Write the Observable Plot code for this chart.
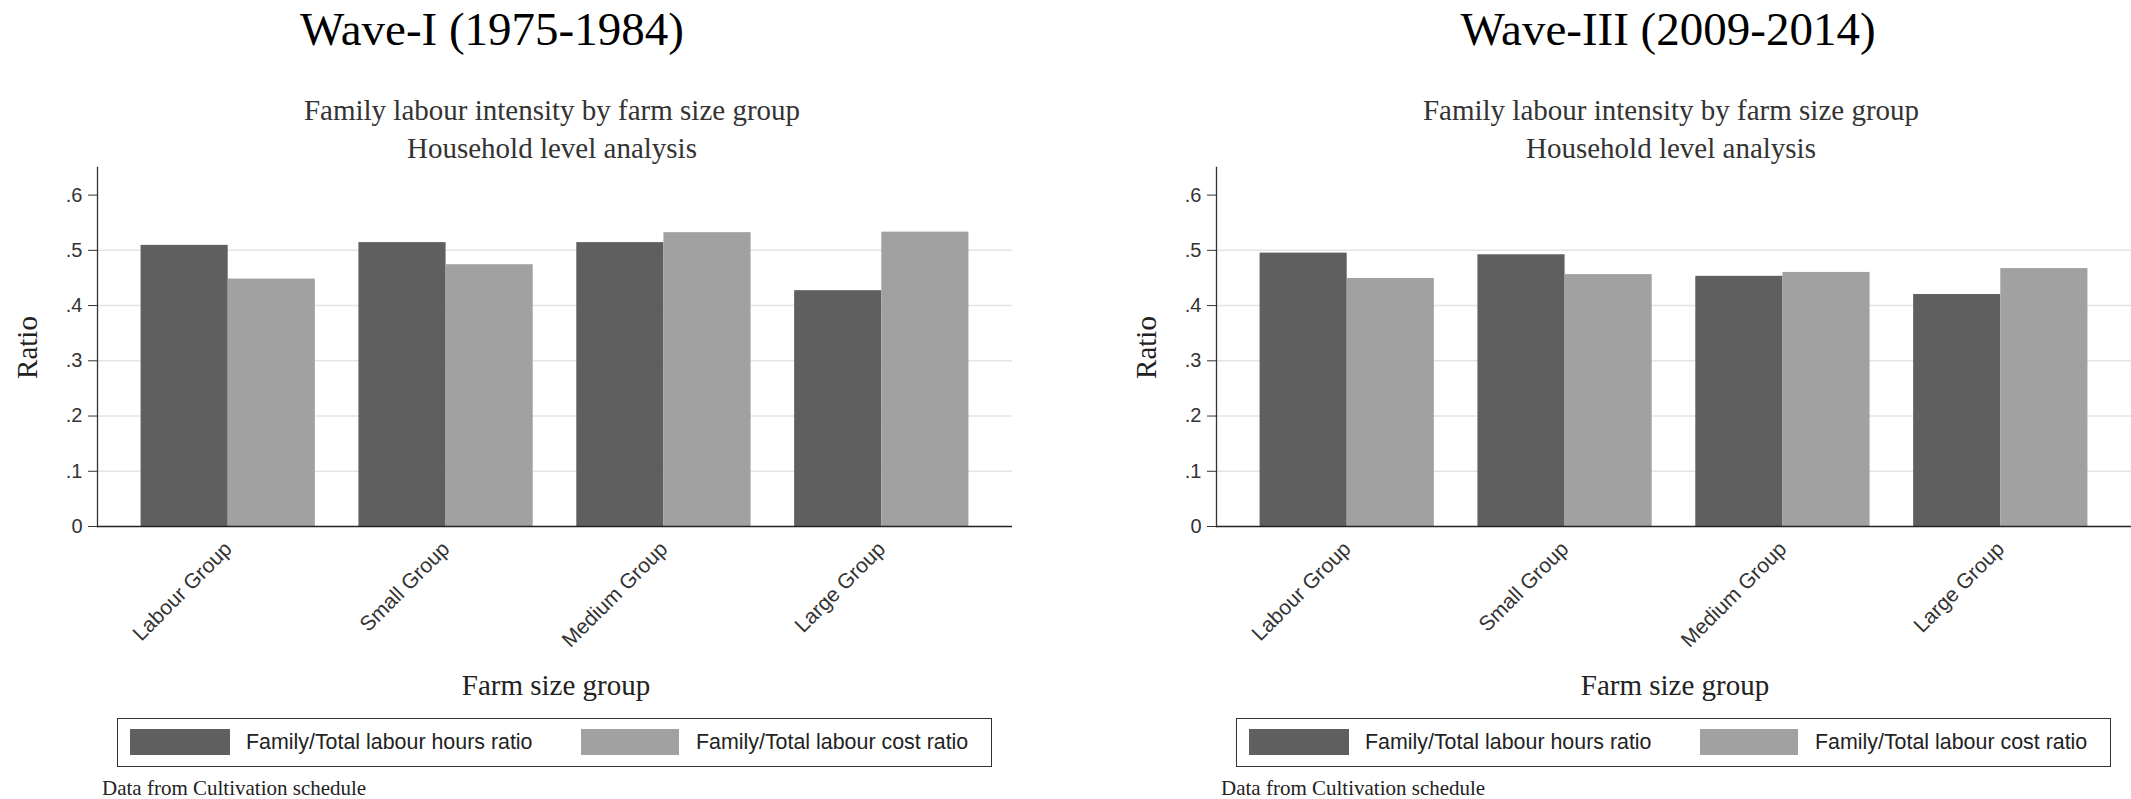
<!DOCTYPE html>
<html>
<head>
<meta charset="utf-8">
<script src="https://cdn.jsdelivr.net/npm/d3@7"></script>
<script src="https://cdn.jsdelivr.net/npm/@observablehq/plot@0.6"></script>
<style>
  html, body { margin: 0; padding: 0; background: #fff; }
  #page { position: relative; width: 2131px; height: 799px; overflow: hidden; background: #fff; }
  .t { position: absolute; white-space: nowrap; }
  .box { position: absolute; box-sizing: border-box; }
</style>
</head>
<body>
<div id="page"></div>
<script>
// ---------- data ----------
const groups = ["Labour Group", "Small Group", "Medium Group", "Large Group"];
const seriesNames = ["Family/Total labour hours ratio", "Family/Total labour cost ratio"];
const seriesColors = ["#5f5f5f", "#a1a1a1"];
const wave1Hours = [0.509, 0.514, 0.514, 0.427];
const wave1Cost  = [0.448, 0.474, 0.532, 0.533];
const wave3Hours = [0.495, 0.492, 0.453, 0.420];
const wave3Cost  = [0.449, 0.456, 0.460, 0.467];
const yTicks = [0, 0.1, 0.2, 0.3, 0.4, 0.5, 0.6];
const gridTicks = [0.1, 0.2, 0.3, 0.4, 0.5];
const panels = [
  {title: "Wave-I (1975-1984)", hours: wave1Hours, cost: wave1Cost},
  {title: "Wave-III (2009-2014)", hours: wave3Hours, cost: wave3Cost}
];
const subtitle1 = "Family labour intensity by farm size group";
const subtitle2 = "Household level analysis";
const yLabel = "Ratio";
const xLabel = "Farm size group";
const caption = "Data from Cultivation schedule";

// ---------- helpers ----------
const page = document.getElementById("page");
const SERIF = "'Liberation Serif', 'Times New Roman', serif";
const SANS = "'Liberation Sans', Arial, sans-serif";
function addText(txt, {x, baseline, size, family = SERIF, anchor = "middle", color = "#000", rotate = 0}) {
  const d = document.createElement("div");
  d.className = "t";
  d.textContent = txt;
  const k = family === SERIF ? 0.8375 : 0.8465;
  d.style.fontFamily = family;
  d.style.fontSize = size + "px";
  d.style.lineHeight = size + "px";
  d.style.color = color;
  if (rotate) {
    d.style.width = "400px";
    d.style.left = (x - 200) + "px";
    d.style.top = (baseline - size / 2) + "px";
    d.style.textAlign = "center";
    d.style.transform = `rotate(${rotate}deg)`;
  } else if (anchor === "middle") {
    d.style.width = "1200px";
    d.style.left = (x - 600) + "px";
    d.style.textAlign = "center";
    d.style.top = (baseline - k * size) + "px";
  } else {
    d.style.left = x + "px";
    d.style.top = (baseline - k * size) + "px";
  }
  page.appendChild(d);
  return d;
}
function addBox(x, y, w, h, style) {
  const d = document.createElement("div");
  d.className = "box";
  Object.assign(d.style, {left: x + "px", top: y + "px", width: w + "px", height: h + "px"}, style);
  page.appendChild(d);
  return d;
}
const fmt = d => d === 0 ? "0" : d.toFixed(1).replace(/^0/, "");

function chart(hours, cost) {
  const W = 1012, ML = 97, MR = 0, MT = 7, MB = 134, H = 500;
  const pad = 0.2;
  const step = (W - ML - MR) / (groups.length - pad + 2 * pad);
  const half = step * (1 - pad) / 2;
  const hoursData = groups.map((g, i) => ({group: g, value: hours[i]}));
  const costData = groups.map((g, i) => ({group: g, value: cost[i]}));
  return Plot.plot({
    width: W, height: H,
    marginLeft: ML, marginRight: MR, marginTop: MT, marginBottom: MB,
    style: {fontFamily: SANS, fontSize: "20px", color: "#333", background: "transparent", overflow: "visible"},
    x: {domain: groups, padding: pad, round: false, label: null, axis: null},
    y: {domain: [0, 0.65], label: null, axis: null},
    marks: [
      Plot.ruleY(gridTicks, {stroke: "#e4e4e4", strokeWidth: 1.5}),
      Plot.barY(hoursData, {x: "group", y: "value", fill: seriesColors[0], insetRight: half}),
      Plot.barY(costData, {x: "group", y: "value", fill: seriesColors[1], insetLeft: half}),
      Plot.ruleY([0], {stroke: "#222", strokeWidth: 1.6}),
      Plot.frame({anchor: "left", stroke: "#333", strokeWidth: 1.3}),
      Plot.axisY({ticks: yTicks, tickFormat: fmt, tickSize: 9, tickPadding: 6, fontSize: 20, label: null, stroke: "#333"}),
      Plot.axisX({tickRotate: -45, tickSize: 0, tickPadding: 19, fontSize: 21, label: null})
    ]
  });
}

// ---------- layout ----------
const titleCenters = [492, 1668];
const panelOffsets = [0, 1119];
panels.forEach((p, i) => {
  const ox = panelOffsets[i];
  addText(p.title, {x: titleCenters[i], baseline: 45, size: 47, color: "#000"});
  addText(subtitle1, {x: 552 + ox, baseline: 120, size: 29, color: "#333"});
  addText(subtitle2, {x: 552 + ox, baseline: 158, size: 29, color: "#333"});
  const holder = document.createElement("div");
  holder.style.position = "absolute";
  holder.style.left = ox + "px";
  holder.style.top = "160px";
  holder.appendChild(chart(p.hours, p.cost));
  page.appendChild(holder);
  addText(yLabel, {x: 27 + ox, baseline: 347, size: 29, color: "#222", rotate: -90});
  addText(xLabel, {x: 556 + ox, baseline: 695, size: 29, color: "#222"});
  // legend
  addBox(117 + ox, 718, 875, 49, {border: "1.5px solid #333"});
  addBox(130 + ox, 729, 100, 26, {background: seriesColors[0]});
  addText(seriesNames[0], {x: 246 + ox, baseline: 750, size: 21.4, family: SANS, anchor: "start", color: "#222"});
  addBox(581 + ox, 729, 98, 26, {background: seriesColors[1]});
  addText(seriesNames[1], {x: 696 + ox, baseline: 750, size: 21.4, family: SANS, anchor: "start", color: "#222"});
  addText(caption, {x: 102 + ox, baseline: 796, size: 21, anchor: "start", color: "#222"});
});
</script>
</body>
</html>
